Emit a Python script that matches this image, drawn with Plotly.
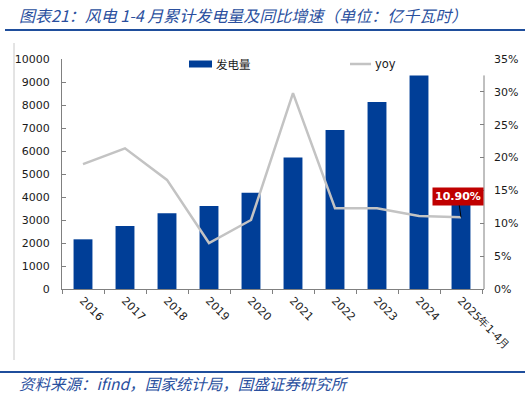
import plotly.graph_objects as go

years = ["2016", "2017", "2018", "2019", "2020", "2021", "2022", "2023", "2024", "2025年1-4月"]
generation = [2160, 2740, 3290, 3610, 4190, 5720, 6910, 8130, 9280, 3750]
yoy = [0.190, 0.214, 0.166, 0.070, 0.105, 0.298, 0.123, 0.123, 0.111, 0.109]

left_ticks = list(range(0, 10001, 1000))
left_labels = [str(v) for v in left_ticks]
right_ticks = [i * 0.05 for i in range(8)]
right_labels = ["%d%%" % (i * 5) for i in range(8)]

BLUE = "#003e97"
TXT = "#1a1a1a"
TITLE_BLUE = "#2a4f9e"
GRAY = "#c3c3c3"
FONT = "DejaVu Sans"

W, H = 525, 397
L, R, T, B = 62, 41, 59, 108
PW, PH = W - L - R, H - T - B


def px(x):
    return (x - L) / PW


def py(y):
    return (H - B - y) / PH


fig = go.Figure()
fig.add_trace(go.Bar(x=years, y=generation, name="发电量", marker=dict(color=BLUE, line=dict(width=0)),
                     width=0.45, yaxis="y"))
fig.add_trace(go.Scatter(x=years, y=yoy, name="yoy", mode="lines", line=dict(color=GRAY, width=2.5),
                         yaxis="y2"))

fig.update_layout(
    width=W, height=H,
    margin=dict(l=L, r=R, t=T, b=B, autoexpand=False),
    paper_bgcolor="white", plot_bgcolor="white",
    showlegend=False,
    font=dict(family=FONT, size=11, color=TXT),
    xaxis=dict(type="category", showline=True, linecolor="#808080", linewidth=1, automargin=False,
               ticks="outside", tickson="boundaries", ticklen=4, tickcolor="#808080",
               tickangle=45, tickfont=dict(size=11, color=TXT), showgrid=False),
    yaxis=dict(range=[0, 10000], tickvals=left_ticks, ticktext=left_labels, showline=True, linecolor="#808080",
               ticks="inside", ticklen=4, tickcolor="#808080", showgrid=False, zeroline=False, automargin=False,
               ticklabelstandoff=9, tickfont=dict(size=11, color=TXT)),
    yaxis2=dict(range=[0, 0.35], tickvals=right_ticks, ticktext=right_labels, overlaying="y", side="right",
                showline=False, ticks="inside", ticklen=4, tickcolor="#808080", showgrid=False, automargin=False,
                zeroline=False, ticklabelstandoff=9, tickfont=dict(size=11, color=TXT)),
)

shapes = [
    # title rule
    dict(type="line", xref="paper", yref="paper", x0=px(5), x1=px(525), y0=py(30), y1=py(30),
         line=dict(color="#1f4e9c", width=2)),
    # source rule
    dict(type="line", xref="paper", yref="paper", x0=px(0), x1=px(525), y0=py(372), y1=py(372),
         line=dict(color="#1f4e9c", width=2)),
    # frame left edge
    dict(type="line", xref="paper", yref="paper", x0=px(14), x1=px(14), y0=py(43), y1=py(360),
         line=dict(color="#c8c8c8", width=1)),
    # right axis line
    dict(type="line", xref="paper", yref="y2", x0=1, x1=1, y0=0, y1=0.325,
         line=dict(color="#808080", width=1)),
    # legend swatches
    dict(type="rect", xref="paper", yref="paper", x0=px(189), x1=px(212), y0=py(60.5), y1=py(67.5),
         fillcolor=BLUE, line=dict(width=0)),
    dict(type="line", xref="paper", yref="paper", x0=px(350), x1=px(371), y0=py(64), y1=py(64),
         line=dict(color=GRAY, width=2.5)),
]
fig.update_layout(shapes=shapes)

ann = [
    dict(text="<i>图表21：风电 1-4 月累计发电量及同比增速（单位：亿千瓦时）</i>", xref="paper", yref="paper",
         x=px(17), y=py(15), xanchor="left", yanchor="middle", showarrow=False,
         font=dict(family="Noto Sans CJK SC", size=16, color=TITLE_BLUE)),
    dict(text="<i>资料来源：ifind，国家统计局，国盛证券研究所</i>", xref="paper", yref="paper",
         x=px(17), y=py(383), xanchor="left", yanchor="middle", showarrow=False,
         font=dict(family="Noto Sans CJK SC", size=15.5, color=TITLE_BLUE)),
    dict(text="发电量", xref="paper", yref="paper", x=px(214), y=py(64), xanchor="left", yanchor="middle",
         showarrow=False, font=dict(family="Noto Sans CJK SC", size=11.5, color=TXT)),
    dict(text="yoy", xref="paper", yref="paper", x=px(373), y=py(64), xanchor="left", yanchor="middle",
         showarrow=False, font=dict(family=FONT, size=11.5, color=TXT)),
    dict(text="<b>%.2f%%</b>" % (yoy[-1] * 100), x=years[-1], y=yoy[-1], xref="x", yref="y2",
         showarrow=True, arrowhead=0, arrowwidth=1, arrowcolor="black", ax=-3, ay=-21,
         xanchor="center", yanchor="middle",
         bgcolor="#c00000", borderpad=2, font=dict(family=FONT, size=11, color="white")),
]
fig.update_layout(annotations=ann)

fig.write_html("out.html")
